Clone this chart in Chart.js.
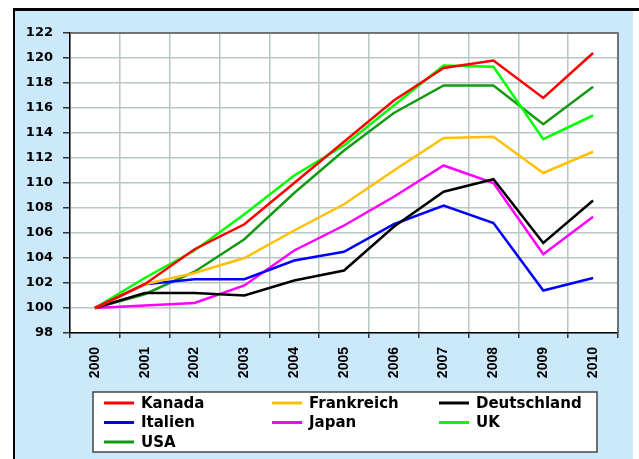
<!DOCTYPE html>
<html>
<head>
<meta charset="utf-8">
<script src="https://cdn.jsdelivr.net/npm/chart.js@4"></script>
<style>
  body { margin: 0; background: #fff; }
  canvas { display: block; }
</style>
</head>
<body>
<canvas id="myChart" width="639" height="459"></canvas>
<script>
var jahre = ["2000", "2001", "2002", "2003", "2004", "2005", "2006", "2007", "2008", "2009", "2010"];

var kanada      = [100, 101.9, 104.7, 106.7, 110.0, 113.3, 116.6, 119.2, 119.8, 116.8, 120.4];
var frankreich  = [100, 101.9, 102.8, 104.0, 106.2, 108.3, 111.0, 113.6, 113.7, 110.8, 112.5];
var deutschland = [100, 101.2, 101.2, 101.0, 102.2, 103.0, 106.5, 109.3, 110.3, 105.2, 108.6];
var italien     = [100, 101.9, 102.3, 102.3, 103.8, 104.5, 106.7, 108.2, 106.8, 101.4, 102.4];
var japan       = [100, 100.2, 100.4, 101.8, 104.6, 106.6, 108.9, 111.4, 110.0, 104.3, 107.3];
var uk          = [100, 102.4, 104.6, 107.5, 110.6, 113.0, 116.2, 119.4, 119.3, 113.5, 115.4];
var usa         = [100, 101.1, 102.9, 105.5, 109.2, 112.6, 115.6, 117.8, 117.8, 114.7, 117.7];

var laender = ["Kanada", "Frankreich", "Deutschland", "Italien", "Japan", "UK", "USA"];
var werte = [kanada, frankreich, deutschland, italien, japan, uk, usa];
var farben = ["#ff0000", "#ffc000", "#000000", "#0000ff", "#ff00ff", "#00ff00", "#139a13"];

var yMin = 98, yMax = 122, yStep = 2;

// hintergrund, rahmen und legende
var rahmen = {
	id: 'rahmen',
	beforeDraw: function(chart) {
		var ctx = chart.ctx;
		var a = chart.chartArea;
		ctx.save();
		ctx.fillStyle = '#ffffff';
		ctx.fillRect(0, 0, chart.width, chart.height);
		ctx.fillStyle = '#cce9fb';
		ctx.fillRect(15, 11, 618, chart.height - 11);
		ctx.fillStyle = '#000000';
		ctx.fillRect(13, 8, chart.width - 13, 3);
		ctx.fillRect(13, 8, 2, chart.height - 8);
		ctx.fillStyle = '#ffffff';
		ctx.fillRect(a.left, a.top, a.right - a.left, a.bottom - a.top);
		ctx.restore();
	},
	afterDraw: function(chart) {
		var ctx = chart.ctx;
		var a = chart.chartArea;
		ctx.save();
		// obere und rechte kante
		ctx.strokeStyle = '#555555';
		ctx.lineWidth = 1.5;
		ctx.beginPath();
		ctx.moveTo(a.left, a.top);
		ctx.lineTo(a.right, a.top);
		ctx.lineTo(a.right, a.bottom);
		ctx.stroke();

		// legende
		ctx.fillStyle = '#ffffff';
		ctx.fillRect(93, 392, 504, 60);
		ctx.strokeStyle = '#444444';
		ctx.lineWidth = 1.5;
		ctx.strokeRect(93, 392, 504, 60);

		var spalten = [104, 272, 439];
		var zeilen = [403, 422.5, 442];
		ctx.font = 'bold 15px "DejaVu Sans"';
		ctx.textBaseline = 'middle';
		ctx.textAlign = 'left';
		chart.data.datasets.forEach(function(ds, i) {
			var x = spalten[i % 3];
			var y = zeilen[Math.floor(i / 3)];
			ctx.strokeStyle = ds.borderColor;
			ctx.lineWidth = 3;
			ctx.beginPath();
			ctx.moveTo(x, y);
			ctx.lineTo(x + 30, y);
			ctx.stroke();
			ctx.fillStyle = '#000000';
			ctx.fillText(ds.label, x + 37, y + 1);
		});
		ctx.restore();
	}
};

var ctx = document.getElementById('myChart').getContext('2d');
var chart = new Chart(ctx, {
	type: 'line',
	data: {
		labels: jahre,
		datasets: laender.map(function(name, i) {
			return {
				label: name,
				data: werte[i],
				borderColor: farben[i],
				backgroundColor: farben[i],
				borderWidth: 2.5,
				pointRadius: 0,
				tension: 0,
				fill: false
			};
		})
	},
	options: {
		responsive: false,
		animation: false,
		devicePixelRatio: 1,
		layout: { padding: { top: 33, right: 21, left: 0, bottom: 0 } },
		plugins: {
			legend: { display: false },
			tooltip: { enabled: false }
		},
		scales: {
			x: {
				offset: true,
				afterFit: function(scale) { scale.height = 126; },
				grid: {
					offset: true,
					color: '#b8c8c4',
					lineWidth: 1.5,
					tickLength: 5,
					tickColor: '#333333'
				},
				border: { color: '#000000', width: 1.5 },
				ticks: {
					minRotation: 90,
					maxRotation: 90,
					padding: 9,
					color: '#000000',
					font: { family: '"Liberation Sans", Arial', size: 14, weight: 'bold' }
				}
			},
			y: {
				min: yMin,
				max: yMax,
				afterFit: function(scale) { scale.width = 70; },
				grid: {
					color: '#b8c8c4',
					lineWidth: 1.5,
					tickLength: 7,
					tickColor: '#333333'
				},
				border: { color: '#000000', width: 1.5 },
				ticks: {
					stepSize: yStep,
					padding: 10,
					color: '#000000',
					font: { family: '"DejaVu Sans"', size: 13, weight: 'bold' }
				}
			}
		}
	},
	plugins: [rahmen]
});
</script>
</body>
</html>
